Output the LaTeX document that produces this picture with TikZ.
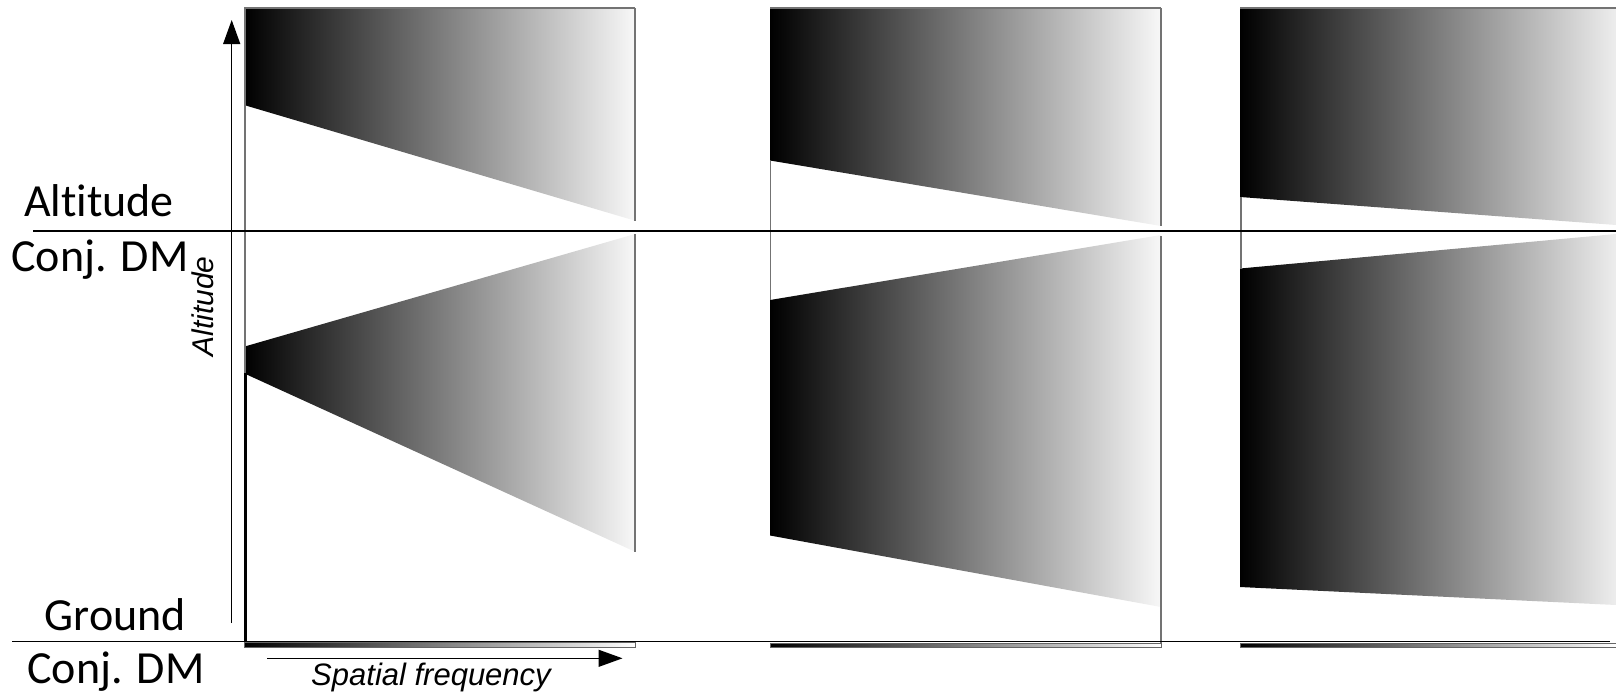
\documentclass[tikz,border=0pt]{standalone}
\usepackage{fontspec}
\newfontfamily\labfont[Ligatures=NoCommon]{Carlito}
\newfontfamily\axfont{Liberation Sans}
\usetikzlibrary{arrows.meta}
\begin{document}
\begin{tikzpicture}[x=1pt,y=-1pt,
  frameline/.style={draw=black!55, line width=1.3pt},
  band/.style={left color=black, right color=black!3},
  bandthree/.style={left color=black, right color=black!7},
  groundbar/.style={left color=black, right color=white, draw=black!60, line width=0.8pt},
  levline/.style={draw=black, line width=1.4pt},
  axisarrow/.style={draw=black, line width=1.2pt, -{Triangle[length=24pt,width=17pt]}},
  bigtxt/.style={font={\labfont\fontsize{46}{50}\selectfont}, inner sep=0pt, anchor=base},
  axtxt/.style={font={\axfont\itshape\fontsize{31}{34}\selectfont}, inner sep=0pt, anchor=base}]
\useasboundingbox (0,0) rectangle (1616,694);

% ---------- panel 1 ----------
\shade[band] (244,8) -- (635,8) -- (635,220.7) -- (244,105) -- cycle;
\shade[band] (244,346.7) -- (635,234) -- (635,551.7) -- (244,373.3) -- cycle;
\draw[frameline] (244,8) -- (635,8);
\draw[frameline] (245,8) -- (245,646);
\draw[frameline] (635,8) -- (635,220.7);
\draw[frameline] (635,234) -- (635,551.7);
\draw[black, line width=3pt] (245.5,373) -- (245.5,646);
\shade[groundbar] (244,642.5) rectangle (635,647);

% ---------- panel 2 ----------
\shade[band] (770,8) -- (1161,8) -- (1161,226) -- (770,160.5) -- cycle;
\shade[band] (770,300) -- (1161,235) -- (1161,607) -- (770,535.5) -- cycle;
\draw[frameline] (770,8) -- (1161,8);
\draw[frameline] (770.6,160.5) -- (770.6,300);
\draw[frameline] (1161,8) -- (1161,226);
\draw[frameline] (1161,236) -- (1161,647);
\shade[groundbar] (770,643) rectangle (1161,647.5);

% ---------- panel 3 ----------
\shade[bandthree] (1240,8) -- (1616,8) -- (1616,225) -- (1240,197) -- cycle;
\shade[bandthree] (1240,268.5) -- (1616,234) -- (1616,605) -- (1240,587) -- cycle;
\draw[frameline] (1240,8) -- (1616,8);
\draw[frameline] (1241,197) -- (1241,268.5);
\shade[groundbar] (1240,643) rectangle (1616,647.5);

% ---------- level lines ----------
\coordinate (altL) at (33,231);
\coordinate (altR) at (1616,231);
\coordinate (grdL) at (12,641.5);
\coordinate (grdR) at (1610,641.5);
\draw[levline] (altL) -- (altR);
\draw[levline] (grdL) -- (grdR);

% ---------- axes ----------
\coordinate (yax0) at (231.7,623);
\coordinate (yax1) at (231.7,20);
\coordinate (xax0) at (267,658.3);
\coordinate (xax1) at (622.5,658.3);
\draw[axisarrow] (yax0) -- (yax1);
\draw[axisarrow] (xax0) -- (xax1);

% ---------- texts ----------
\node[bigtxt] (altlab) at (99,216.7) {Altitude};
\node[bigtxt] (conjtop) at (100,271.7) {Conj. DM};
\node[bigtxt] (grdlab) at (115.5,630) {Ground};
\node[bigtxt] (conjbot) at (116,683) {Conj. DM};
\node[axtxt] (sflab) at (431,685) {Spatial frequency};
\node[axtxt, font={\axfont\itshape\fontsize{30}{33}\selectfont}, rotate=90] (altax) at (213,306.5) {Altitude};
\end{tikzpicture}
\end{document}
